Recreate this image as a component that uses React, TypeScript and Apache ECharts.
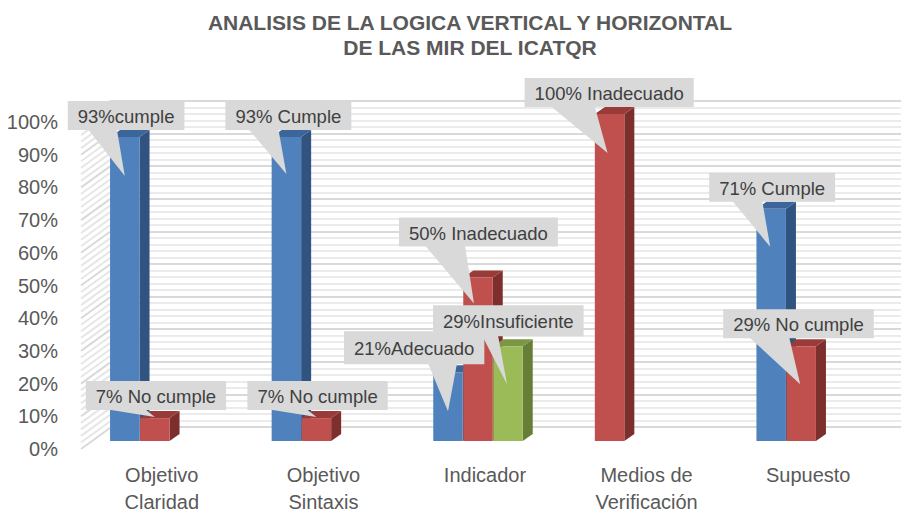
import React, { useEffect, useRef } from "react";
import * as echarts from "echarts";

// ---------- data ----------
const categories = [
  "Objetivo\nClaridad",
  "Objetivo\nSintaxis",
  "Indicador",
  "Medios de\nVerificación",
  "Supuesto",
];
// first slot (blue: cumple / adecuado; Medios uses this slot, coloured red)
const slot0Values: (number | null)[] = [93, 93, 21, 100, 71];
// second slot (red: no cumple / inadecuado)
const slot1Values: (number | null)[] = [7, 7, 50, null, 29];
// third slot (green: insuficiente)
const slot2Values: (number | null)[] = [null, null, 29, null, null];

const slot0Labels: (string | null)[] = ["93%cumple", "93% Cumple", "21%Adecuado", "100% Inadecuado", "71% Cumple"];
const slot1Labels: (string | null)[] = ["7% No cumple", "7% No cumple", "50% Inadecuado", null, "29% No cumple"];
const slot2Labels: (string | null)[] = [null, null, "29%Insuficiente", null, null];

const yTicks = [0, 10, 20, 30, 40, 50, 60, 70, 80, 90, 100];

const titleText = "ANALISIS DE LA LOGICA VERTICAL Y HORIZONTAL\nDE LAS MIR DEL ICATQR";

// ---------- layout / style ----------
const slotValues = [slot0Values, slot1Values, slot2Values];
const slotLabels = [slot0Labels, slot1Labels, slot2Labels];

const palettes: Record<string, { front: string; side: string; top: string }> = {
  blue: { front: "#4f81bd", side: "#30537f", top: "#3c6699" },
  red: { front: "#c0504d", side: "#7c2f2d", top: "#993c39" },
  green: { front: "#9bbb59", side: "#677e37", top: "#7b9745" },
};
const slotPalette = ["blue", "red", "green"];
const paletteOverride: Record<string, string> = { "3-0": "red" };

const SLOT_OFFSET = [-0.229, -0.0433, 0.1423]; // fraction of band width
const BAR_W = 0.1825;
const BAR_SHIFT_Y = -8;
const DEPTH_X = 10;
const DEPTH_Y = -7;
const WALL_DX = 29;
const WALL_DY = -21;

// callout draw order (category, slot)
const calloutOrder: [number, number][] = [
  [0, 0], [0, 1], [1, 0], [1, 1], [2, 1], [2, 0], [2, 2], [3, 0], [4, 0], [4, 1],
];
const calloutLayout: Record<string, { dx: number; dy: number; h: number; tip: [number, number]; base: [number, number] }> = {
  "0-0": { dx: -57, dy: -36, h: 29, tip: [0, 39], base: [-37, -8] },
  "0-1": { dx: -69, dy: -37, h: 29, tip: [0, -1], base: [-50, -10] },
  "1-0": { dx: -61, dy: -36, h: 29, tip: [0, 37], base: [-38, -8] },
  "1-1": { dx: -69, dy: -37, h: 29, tip: [0, -1], base: [-50, -10] },
  "2-1": { dx: -79, dy: -60, h: 29, tip: [-4, 26], base: [-53, -13] },
  "2-0": { dx: -104, dy: -41, h: 33, tip: [0, 39], base: [-20, 9] },
  "2-2": { dx: -75, dy: -41, h: 31, tip: [-1, 38], base: [-26, -10] },
  "3-0": { dx: -85, dy: -36, h: 29, tip: [-2, 39], base: [-59, -15] },
  "4-0": { dx: -62, dy: -36, h: 29, tip: [-1, 38], base: [-39, -9] },
  "4-1": { dx: -78, dy: -37, h: 29, tip: [-1, 38], base: [-52, -12] },
};

const FONT = '"Liberation Sans", Arial, sans-serif';
const CALLOUT_FONT = `18.5px ${FONT}`;

let measureCtx: CanvasRenderingContext2D | null = null;
function textWidth(t: string): number {
  if (!measureCtx) measureCtx = document.createElement("canvas").getContext("2d");
  if (!measureCtx) return t.length * 9;
  measureCtx.font = CALLOUT_FONT;
  return measureCtx.measureText(t).width;
}

function barGeom(api: any, cat: number, v: number, slot: number) {
  const base = api.coord([cat, 0]);
  const top = api.coord([cat, v]);
  const bw = api.size([1, 0])[0];
  const w = bw * BAR_W;
  const cx = base[0] + bw * SLOT_OFFSET[slot];
  return { cx, x0: cx - w / 2, x1: cx + w / 2, w, yb: base[1] + BAR_SHIFT_Y, yt: top[1] + BAR_SHIFT_Y };
}

function makeBarSeries(slot: number) {
  const values = slotValues[slot];
  const data = values
    .map((v, i) => (v == null ? null : [i, v]))
    .filter((d) => d !== null);
  return {
    type: "custom",
    name: "slot" + slot,
    xAxisIndex: 0,
    yAxisIndex: 0,
    z: 5,
    data,
    renderItem: (params: any, api: any) => {
      const cat = api.value(0);
      const v = api.value(1);
      const g = barGeom(api, cat, v, slot);
      const pal = palettes[paletteOverride[`${cat}-${slot}`] || slotPalette[slot]];
      return {
        type: "group",
        children: [
          {
            type: "polygon",
            shape: { points: [[g.x1, g.yt], [g.x1 + DEPTH_X, g.yt + DEPTH_Y], [g.x1 + DEPTH_X, g.yb + DEPTH_Y], [g.x1, g.yb]] },
            style: { fill: pal.side },
          },
          {
            type: "polygon",
            shape: { points: [[g.x0, g.yt], [g.x0 + DEPTH_X, g.yt + DEPTH_Y], [g.x1 + DEPTH_X, g.yt + DEPTH_Y], [g.x1, g.yt]] },
            style: { fill: pal.top },
          },
          {
            type: "rect",
            shape: { x: g.x0, y: g.yt, width: g.w, height: g.yb - g.yt },
            style: { fill: pal.front },
          },
        ],
      };
    },
  };
}

export default function App() {
  const ref = useRef<HTMLDivElement>(null);

  useEffect(() => {
    document.body.style.margin = "0";
    if (!ref.current) return;
    const chart = echarts.init(ref.current, null, { renderer: "svg" });

    const calloutData = calloutOrder.map(([c, s]) => [c, slotValues[s][c] as number, s]);

    const option: any = {
      animation: false,
      backgroundColor: "#ffffff",
      graphic: [
        {
          type: "text",
          x: 470,
          y: 10,
          style: {
            text: titleText,
            font: `bold 21px ${FONT}`,
            fill: "#595959",
            align: "center",
            verticalAlign: "top",
            lineHeight: 25,
          },
        },
      ],
      grid: [
        { left: 81, right: 12, top: 122, bottom: 63, containLabel: false, outerBoundsMode: "none" },
        { left: 110, right: 0, top: 101, bottom: 85, containLabel: false, outerBoundsMode: "none" },
      ],
      xAxis: [
        {
          type: "category",
          gridIndex: 0,
          data: categories,
          axisLine: { show: false },
          axisTick: { show: false },
          splitLine: { show: false },
          axisLabel: {
            color: "#595959",
            fontFamily: FONT,
            fontSize: 20,
            lineHeight: 27,
            margin: 12,
            interval: 0,
          },
        },
        { type: "value", gridIndex: 1, min: 0, max: 1, show: false },
      ],
      yAxis: [
        {
          type: "value",
          gridIndex: 0,
          min: 0,
          max: 100,
          interval: 10,
          axisLine: { show: false },
          axisTick: { show: false },
          splitLine: { show: false },
          axisLabel: {
            formatter: "{value}%",
            color: "#595959",
            fontFamily: FONT,
            fontSize: 20,
            margin: 23,
          },
        },
        {
          type: "value",
          gridIndex: 1,
          min: 0,
          max: 100,
          interval: 10,
          axisLine: { show: false },
          axisTick: { show: false },
          axisLabel: { show: false },
          splitLine: { show: true, lineStyle: { color: "#d9d9d9", width: 2 } },
          minorTick: { show: false, splitNumber: 5 },
          minorSplitLine: { show: true, lineStyle: { color: "#ebebeb", width: 2 } },
        },
      ],
      series: [
        {
          type: "custom",
          name: "leftWall",
          xAxisIndex: 0,
          yAxisIndex: 0,
          z: 1,
          silent: true,
          data: yTicks.map((v) => [0, v]),
          renderItem: (params: any, api: any) => {
            const v = api.value(1);
            const bw = api.size([1, 0])[0];
            const p = api.coord([0, v]);
            const xL = p[0] - bw / 2;
            const children: any[] = [
              {
                type: "line",
                shape: { x1: xL, y1: p[1], x2: xL + WALL_DX, y2: p[1] + WALL_DY },
                style: { stroke: "#d9d9d9", lineWidth: 2 },
              },
            ];
            if (v < 100) {
              for (let k = 1; k < 5; k++) {
                const q = api.coord([0, v + k * 2]);
                children.push({
                  type: "line",
                  shape: { x1: xL, y1: q[1], x2: xL + WALL_DX, y2: q[1] + WALL_DY },
                  style: { stroke: "#e6e6e6", lineWidth: 2 },
                });
              }
            }
            return { type: "group", children };
          },
        },
        makeBarSeries(0),
        makeBarSeries(1),
        makeBarSeries(2),
        {
          type: "custom",
          name: "callouts",
          xAxisIndex: 0,
          yAxisIndex: 0,
          z: 10,
          data: calloutData,
          renderItem: (params: any, api: any) => {
            const cat = api.value(0);
            const v = api.value(1);
            const slot = api.value(2);
            const key = `${cat}-${slot}`;
            const lay = calloutLayout[key];
            const text = slotLabels[slot][cat] || "";
            const g = barGeom(api, cat, v, slot);
            const rx = g.cx + lay.dx;
            const ry = g.yt + lay.dy;
            const rw = textWidth(text) + 20;
            const rb = ry + lay.h;
            return {
              type: "group",
              children: [
                {
                  type: "polygon",
                  shape: { points: [[g.cx + lay.base[0], rb - 1], [g.cx + lay.base[1], rb - 1], [g.cx + lay.tip[0], g.yt + lay.tip[1]]] },
                  style: { fill: "#d9d9d9" },
                },
                {
                  type: "rect",
                  shape: { x: rx, y: ry, width: rw, height: lay.h },
                  style: { fill: "#d9d9d9" },
                },
                {
                  type: "text",
                  x: rx + 10,
                  y: ry + lay.h / 2 + 1,
                  style: {
                    text,
                    font: CALLOUT_FONT,
                    fill: "#404040",
                    align: "left",
                    verticalAlign: "middle",
                  },
                },
              ],
            };
          },
        },
      ],
    };

    chart.setOption(option);
    return () => chart.dispose();
  }, []);

  return <div ref={ref} style={{ width: 901, height: 512 }} />;
}
